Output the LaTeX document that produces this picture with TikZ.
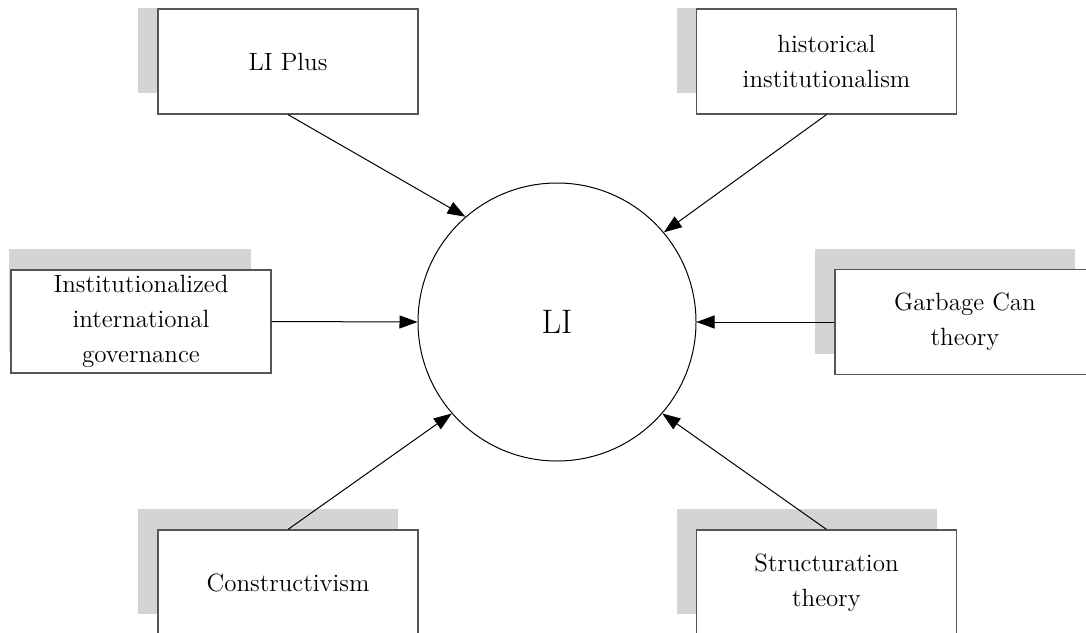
\documentclass[tikz,border=0pt]{standalone}
\usepackage{tikz}
\usetikzlibrary{arrows.meta,shadows}

\definecolor{shadowgray}{RGB}{212,212,212}
\definecolor{boxline}{RGB}{85,85,85}

\tikzset{
  theory/.style={draw=boxline, line width=0.6pt, fill=white, minimum width=130pt,
    minimum height=52.5pt, inner sep=2pt, align=center,
    font=\fontsize{12.5}{17.5}\selectfont,
    drop shadow={shadow xshift=-10pt, shadow yshift=10.5pt, fill=shadowgray, opacity=1}},
  core/.style={draw, circle, line width=0.5pt, minimum size=139pt, inner sep=0pt,
    font=\fontsize{17}{20}\selectfont},
  feed/.style={-{Triangle[length=9pt,width=6.5pt]}, line width=0.5pt}
}

\begin{document}
\begin{tikzpicture}[x=0.5pt,y=-0.5pt]
    \useasboundingbox (0,0) rectangle (1086,632);
    \begin{scope}
    \clip (9,8) rectangle (1086,632);

    % centre
    \node[core] (li) at (557,322) {LI};

    % top row
    \node[theory] (plus) at (288,61.5) {LI Plus};
    \node[theory] (hist) at (826.5,61.5) {historical\\institutionalism};

    % middle row
    \node[theory, minimum height=51.5pt] (inst) at (141,321.5) {Institutionalized\\international\\governance};
    \node[theory] (garb) at (965,322) {Garbage Can\\theory};

    % bottom row
    \node[theory] (cons) at (288,582.5) {Constructivism};
    \node[theory] (stru) at (826.5,582.5) {Structuration\\theory};

    % arrows into LI
    \draw[feed] (plus.south) -- (li.131);
    \draw[feed] (hist.south) -- (li.40);
    \draw[feed] (inst.east) -- (li.west);
    \draw[feed] (garb.west) -- (li.east);
    \draw[feed] (cons.north) -- (li.221);
    \draw[feed] (stru.north) -- (li.319);
    \end{scope}
\end{tikzpicture}
\end{document}
